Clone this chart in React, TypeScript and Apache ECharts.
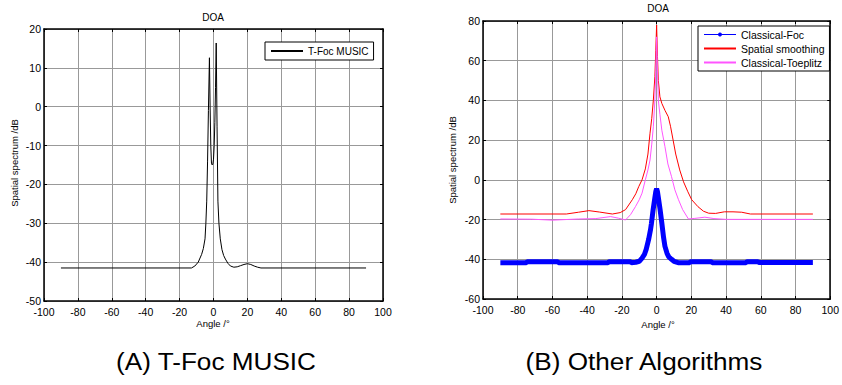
import React, { useEffect, useRef } from "react";
import * as echarts from "echarts";

// ---- Data ----
const tfocAngles = [-90, -13, -11, -9, -7, -6, -5, -4.5, -4, -3.5, -3, -2.4, -2, -1.6, -1.2, -0.8, -0.4, 0, 0.4, 0.8, 1.2, 1.6, 2.1, 2.6, 3.2, 4, 5, 6, 7, 8.5, 10, 12, 14, 16, 18, 20, 22, 24, 26, 28, 90];
const tfocValues = [-41.5, -41.5, -41, -40, -38, -36.5, -34, -30, -24.3, -14, -1, 12.6, 0, -10, -14.5, -15, -14.8, -13.5, -10, -4, 5, 16.4, -5, -24.3, -30, -34, -36.8, -38.3, -39.2, -40.3, -41, -41.3, -41.2, -40.9, -40.6, -40.4, -40.6, -41, -41.3, -41.5, -41.5];

const focAngles = [-90, -75, -74.5, -57, -56.5, -28, -27.5, -15, -14.5, -12, -10, -8.4, -7, -6, -4.6, -3.5, -3, -2, -1.5, -1, -0.5, 0, 0.5, 1, 2, 3, 4, 4.8, 6, 7, 8.6, 10, 12.4, 19, 19.5, 31.5, 32, 51.5, 52, 58.3, 58.8, 90];
const focValues = [-41.7, -41.7, -41.2, -41.2, -41.7, -41.7, -41.3, -41.3, -41.7, -41.5, -41, -39.4, -37.5, -35, -30, -25, -22, -15, -12, -9, -6, -4.5, -6, -9, -15, -21.8, -29, -33.5, -37, -38.8, -40, -41, -41.7, -41.7, -41.2, -41.2, -41.7, -41.7, -41.2, -41.2, -41.6, -41.6];

const smoothAngles = [-90, -52, -45, -39, -33, -25.5, -21, -17.9, -14, -12, -10.3, -8.4, -6.5, -5, -3.8, -2.8, -1.9, -1, -0.5, 0, 0.5, 1, 1.9, 3, 4.8, 6.7, 8, 9.5, 11, 13.3, 15.5, 18, 20.2, 23.8, 27, 30, 34, 39, 44, 49, 54, 90];
const smoothValues = [-17.2, -17.2, -16.3, -15.5, -16.2, -17.2, -16.5, -15, -10, -7, -3.4, 0, 5.5, 13, 23.5, 31, 40, 52, 65, 78, 62, 50, 41.8, 38.5, 35, 31.8, 27, 20, 13, 5, -1, -6, -10, -13.5, -15.8, -16.8, -16.9, -16.1, -16.1, -16.3, -17.2, -17.2];

const toepAngles = [-90, -72, -60, -45, -35, -26.5, -22, -17.9, -15, -12.2, -10, -8.4, -6.5, -5, -3.8, -2.8, -1.9, -1, -0.5, 0, 0.5, 1, 1.9, 3, 4.8, 6.5, 8.6, 10.5, 12.6, 15, 18.3, 22, 27.8, 33, 40, 90];
const toepValues = [-19.7, -19.8, -20.3, -19.7, -19.5, -18.5, -19.3, -20.2, -17.5, -13.5, -10, -6.7, 0, 5, 10, 18, 26.7, 40, 55, 72, 55, 40, 33, 25, 16.7, 8, 1.6, -5, -10, -15, -19.7, -19.4, -18.8, -19.5, -19.9, -19.9];

const chartTitles = ["DOA", "DOA"];
const xAxisName = "Angle /°";
const yAxisName = "Spatial spectrum /dB";
const captions = ["(A) T-Foc MUSIC", "(B) Other Algorithms"];
const leftLegend = ["T-Foc MUSIC"];
const rightLegend = ["Classical-Foc", "Spatial smoothing", "Classical-Toeplitz"];

const pairs = (xs: number[], ys: number[]) => xs.map((x, i) => [x, ys[i]]);

const FONT = "Liberation Sans, Arial, sans-serif";
const TICK_FONT = 10.5;

const mainX = (grid: number) => ({
  type: "value",
  gridIndex: grid,
  min: -100,
  max: 100,
  interval: 20,
  position: "bottom",
  axisLine: { show: true, onZero: false, lineStyle: { color: "#000", width: 1.5 } },
  axisTick: { show: true, inside: true, length: 3, lineStyle: { color: "#000" } },
  axisLabel: { color: "#000", fontSize: TICK_FONT, fontFamily: FONT, margin: 5, lineHeight: 11 },
  splitLine: { show: true, lineStyle: { color: "#999", width: 1 } },
});
const topX = (grid: number) => ({
  type: "value",
  gridIndex: grid,
  min: -100,
  max: 100,
  interval: 20,
  position: "top",
  axisLine: { show: true, onZero: false, lineStyle: { color: "#000", width: 1.5 } },
  axisTick: { show: true, inside: true, length: 3, lineStyle: { color: "#000" } },
  axisLabel: { show: false },
  splitLine: { show: false },
});
const mainY = (grid: number, min: number, max: number, interval: number) => ({
  type: "value",
  gridIndex: grid,
  min,
  max,
  interval,
  position: "left",
  axisLine: { show: true, onZero: false, lineStyle: { color: "#000", width: 1.5 } },
  axisTick: { show: true, inside: true, length: 3, lineStyle: { color: "#000" } },
  axisLabel: { color: "#000", fontSize: TICK_FONT, fontFamily: FONT, margin: 3, lineHeight: 10 },
  splitLine: { show: true, lineStyle: { color: "#999", width: 1 } },
});
const rightY = (grid: number, min: number, max: number, interval: number) => ({
  type: "value",
  gridIndex: grid,
  min,
  max,
  interval,
  position: "right",
  axisLine: { show: true, onZero: false, lineStyle: { color: "#000", width: 1.5 } },
  axisTick: { show: true, inside: true, length: 3, lineStyle: { color: "#000" } },
  axisLabel: { show: false },
  splitLine: { show: false },
});

const txt = (x: number, y: number, text: string, size: number, extra: any = {}) => ({
  type: "text",
  x,
  y,
  silent: true,
  ...extra,
  style: {
    text,
    fill: "#000",
    fontSize: size,
    fontFamily: FONT,
    align: "center",
    verticalAlign: "middle",
  },
});

const hideSym = { itemStyle: { opacity: 0 } };

export default function App() {
  const ref = useRef<HTMLDivElement>(null);
  useEffect(() => {
    if (!ref.current) return;
    const chart = echarts.init(ref.current, undefined, { renderer: "svg" });
    chart.setOption({
      animation: false,
      backgroundColor: "#fff",
      grid: [
        { left: 44, top: 29, width: 339, height: 272, containLabel: false },
        { left: 483, top: 21, width: 350, height: 278, containLabel: false },
      ],
      xAxis: [mainX(0), topX(0), mainX(1), topX(1)],
      yAxis: [mainY(0, -50, 20, 10), rightY(0, -50, 20, 10), mainY(1, -60, 80, 20), rightY(1, -60, 80, 20)],
      legend: [
        {
          data: [{ name: leftLegend[0], ...hideSym }],
          left: 265,
          top: 42,
          orient: "vertical",
          backgroundColor: "#fff",
          borderColor: "#000",
          borderWidth: 1,
          borderRadius: 0,
          padding: [4, 5, 4, 5],
          itemWidth: 32,
          itemHeight: 10,
          itemGap: 4,
          textStyle: { color: "#000", fontSize: 10, fontFamily: FONT },
        },
        {
          data: [
            { name: rightLegend[0], lineStyle: { width: 1 } },
            { name: rightLegend[1], ...hideSym },
            { name: rightLegend[2], ...hideSym },
          ],
          left: 698,
          top: 26,
          orient: "vertical",
          backgroundColor: "#fff",
          borderColor: "#000",
          borderWidth: 1,
          borderRadius: 0,
          padding: [3, 5, 3, 5],
          itemWidth: 32,
          itemHeight: 5,
          itemGap: 3,
          textStyle: { color: "#000", fontSize: 10.5, fontFamily: FONT },
        },
      ],
      series: [
        {
          name: leftLegend[0],
          type: "line",
          xAxisIndex: 0,
          yAxisIndex: 0,
          data: pairs(tfocAngles, tfocValues),
          symbol: "none",
          lineStyle: { color: "#000", width: 1 },
          itemStyle: { color: "#000" },
        },
        {
          name: rightLegend[0],
          type: "line",
          xAxisIndex: 2,
          yAxisIndex: 2,
          data: pairs(focAngles, focValues),
          symbol: "circle",
          symbolSize: 4,
          showSymbol: false,
          lineStyle: { color: "#0000ff", width: 5 },
          itemStyle: { color: "#0000ff" },
        },
        {
          name: rightLegend[1],
          type: "line",
          xAxisIndex: 2,
          yAxisIndex: 2,
          data: pairs(smoothAngles, smoothValues),
          symbol: "none",
          lineStyle: { color: "#ff0000", width: 1 },
          itemStyle: { color: "#ff0000" },
        },
        {
          name: rightLegend[2],
          type: "line",
          xAxisIndex: 2,
          yAxisIndex: 2,
          data: pairs(toepAngles, toepValues),
          symbol: "none",
          lineStyle: { color: "#ff55ff", width: 1 },
          itemStyle: { color: "#ff55ff" },
        },
      ],
      graphic: [
        txt(213, 17, chartTitles[0], 10),
        txt(658, 8, chartTitles[1], 10),
        txt(213, 323.5, xAxisName, 9.5),
        txt(658, 324, xAxisName, 9.5),
        txt(14, 163, yAxisName, 9.5, { rotation: Math.PI / 2 }),
        txt(452, 160, yAxisName, 9.5, { rotation: Math.PI / 2 }),
        txt(216, 361, captions[0], 24, { scaleX: 1.09 }),
        txt(644, 361, captions[1], 24, { scaleX: 1.09 }),
      ],
    });
    return () => chart.dispose();
  }, []);
  return (
    <div
      ref={ref}
      style={{ position: "absolute", left: 0, top: 0, width: 842, height: 385 }}
    />
  );
}
